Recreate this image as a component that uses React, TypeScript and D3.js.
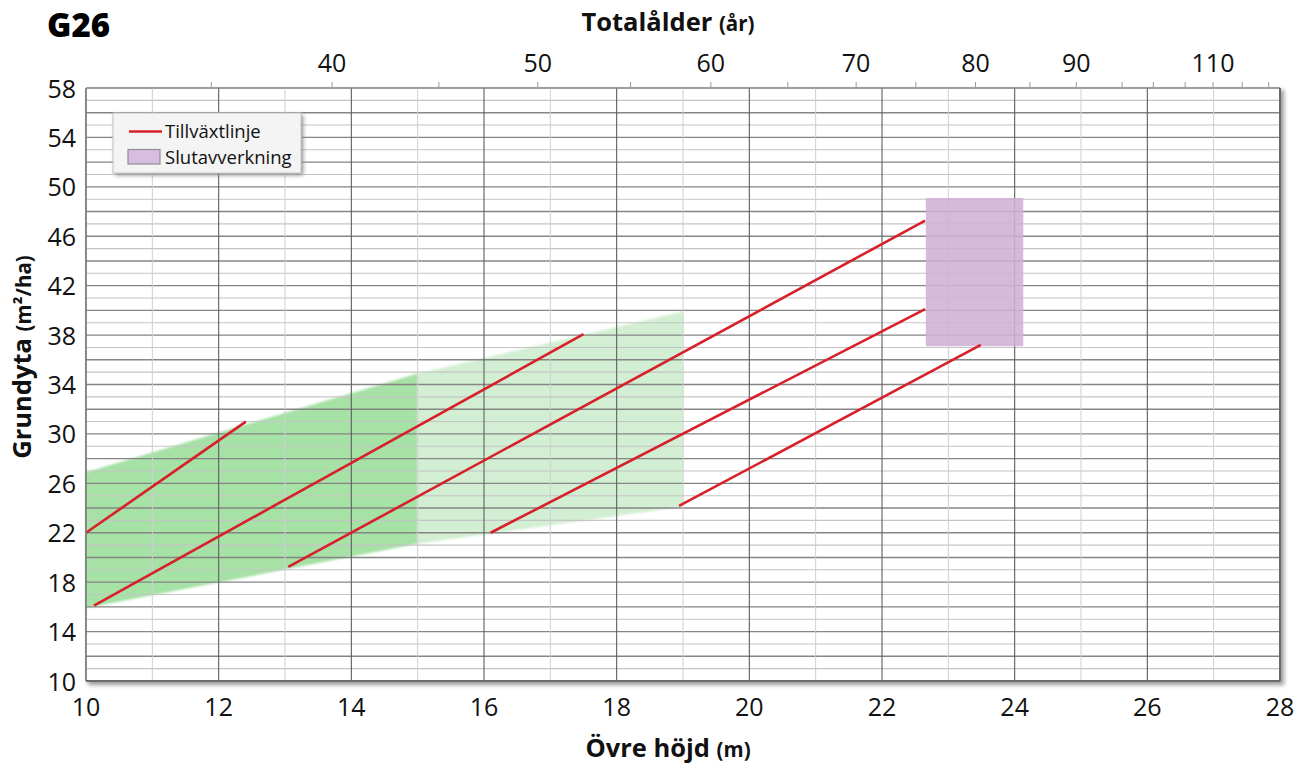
import React from "react";
import * as d3 from "d3";

// ---- data ----
const heightTicks = [10, 12, 14, 16, 18, 20, 22, 24, 26, 28];
const areaTicks = [10, 14, 18, 22, 26, 30, 34, 38, 42, 46, 50, 54, 58];
// Totalålder ticks: age value and the övre höjd (m) where it sits
const ageTickAges = [35, 40, 45, 50, 55, 60, 65, 70, 75, 80, 85, 90, 95, 100, 105, 110, 115, 120];
const ageTickHeights = [11.89, 13.71, 15.32, 16.81, 18.21, 19.42, 20.58, 21.61, 22.51, 23.41, 24.23, 24.93, 25.62, 26.09, 26.57, 26.99, 27.43, 27.83];
const ageLabels = [40, 50, 60, 70, 80, 90, 110];

// green zones: [height, grundyta] polygon points
const youngZone: [number, number][] = [[10, 26.9], [15, 34.9], [15, 21.1], [10, 15.9]];
const matureZone: [number, number][] = [[15, 34.9], [19, 39.9], [19, 24.1], [15, 21.1]];

// Tillväxtlinjer: start and end [height, grundyta]
const growthLines: [number, number][][] = [
  [[10.0, 22.0], [12.41, 31.0]],
  [[10.12, 16.1], [17.5, 38.07]],
  [[13.05, 19.23], [22.65, 47.27]],
  [[16.1, 22.0], [22.65, 40.1]],
  [[18.94, 24.17], [23.49, 37.2]],
];

// Slutavverkning zone
const fellingHeights = [22.66, 24.13];
const fellingAreas = [37.1, 49.1];

const W = 1299;
const H = 769;
const L = 86, R = 1280, T = 88, B = 681;

export default function App() {
  const x = d3.scaleLinear().domain([10, 28]).range([L, R]);
  const y = d3.scaleLinear().domain([10, 58]).range([B, T]);
  const font = "'Open Sans', 'Noto Sans', sans-serif";

  const hGrid = d3.range(10, 59, 1);
  const vGrid = d3.range(10, 29, 1);

  const poly = d3.line<[number, number]>().x((d) => x(d[0])).y((d) => y(d[1]));

  return (
    <svg width={W} height={H} style={{ position: "absolute", left: 0, top: 0, background: "#fff" }} fontFamily={font}>
      <defs>
        <filter id="blur2" x="-10%" y="-10%" width="120%" height="120%">
          <feGaussianBlur stdDeviation="2" />
        </filter>
        <filter id="soft" x="-5%" y="-5%" width="110%" height="110%">
          <feGaussianBlur stdDeviation="1.2" />
        </filter>
      </defs>

      {/* plot shadow */}
      <rect x={L + 2} y={T + 2} width={R - L + 2} height={B - T + 2} fill="#9a9a9a" filter="url(#blur2)" />
      <rect x={L} y={T} width={R - L} height={B - T} fill="#fff" />

      {/* green zones */}
      <path d={poly(matureZone) + "Z"} fill="#d3efd3" filter="url(#soft)" />
      <path d={poly(youngZone) + "Z"} fill="#a6e1a6" filter="url(#soft)" />

      {/* grid */}
      {hGrid.map((v) => (
        <line key={"h" + v} x1={L} x2={R} y1={y(v)} y2={y(v)}
          stroke={v % 2 === 0 ? "#858585" : "#c4c4c4"} strokeWidth={v % 2 === 0 ? 1.4 : 1.1} />
      ))}
      {vGrid.map((v) => (
        <line key={"v" + v} x1={x(v)} x2={x(v)} y1={T} y2={B}
          stroke={v % 2 === 0 ? "#5e5e5e" : "#cfcfcf"} strokeWidth={v % 2 === 0 ? 1.1 : 1} />
      ))}

      {/* slutavverkning */}
      <rect x={x(fellingHeights[0])} y={y(fellingAreas[1])}
        width={x(fellingHeights[1]) - x(fellingHeights[0])}
        height={y(fellingAreas[0]) - y(fellingAreas[1])}
        fill="#cfb2d4" fillOpacity={0.88} />

      {/* growth lines */}
      {growthLines.map((ln, i) => (
        <path key={"g" + i} d={poly(ln) as string} stroke="#d7202a" strokeWidth={2.6} fill="none" />
      ))}

      {/* border */}
      <line x1={L} x2={L} y1={T} y2={B} stroke="#808080" strokeWidth={1.5} />
      <line x1={L} x2={R} y1={T} y2={T} stroke="#9a9a9a" strokeWidth={1.2} />
      <line x1={R} x2={R} y1={T} y2={B} stroke="#6a6a6a" strokeWidth={2} />
      <line x1={L} x2={R} y1={B} y2={B} stroke="#6a6a6a" strokeWidth={1.8} />

      {/* top axis ticks */}
      {ageTickHeights.map((h, i) => (
        <line key={"t" + i} x1={x(h)} x2={x(h)} y1={T} y2={T - 6} stroke="#9a9a9a" strokeWidth={1} />
      ))}
      {ageLabels.map((a) => {
        const h = ageTickHeights[ageTickAges.indexOf(a)];
        return (
          <text key={"al" + a} x={x(h)} y={72} fontSize={25} textAnchor="middle" fill="#111">{a}</text>
        );
      })}

      {/* left labels */}
      {areaTicks.map((v) => (
        <text key={"yl" + v} x={L - 10} y={y(v) + 9.5} fontSize={25} textAnchor="end" fill="#111">{v}</text>
      ))}
      {/* bottom labels */}
      {heightTicks.map((v) => (
        <text key={"xl" + v} x={x(v)} y={716} fontSize={25} textAnchor="middle" fill="#111">{v}</text>
      ))}

      {/* titles */}
      <text x={47} y={37} fontSize={33} fontWeight={800} fill="#000">G26</text>
      <text x={668} y={31} textAnchor="middle" fontWeight={700} fill="#111">
        <tspan fontSize={25.5}>Totalålder </tspan>
        <tspan fontSize={20.5}>(år)</tspan>
      </text>
      <text x={668} y={757} textAnchor="middle" fontWeight={700} fill="#111">
        <tspan fontSize={25.5}>Övre höjd </tspan>
        <tspan fontSize={20.5}>(m)</tspan>
      </text>
      <text transform={`translate(31, 357) rotate(-90)`} textAnchor="middle" fontWeight={700} fill="#111">
        <tspan fontSize={25.5}>Grundyta </tspan>
        <tspan fontSize={20.5}>(m²/ha)</tspan>
      </text>

      {/* legend */}
      <rect x={115} y={115} width={188} height={60} fill="#8a8a8a" filter="url(#blur2)" />
      <rect x={113} y={113} width={188} height={60} fill="#f4f4f4" stroke="#c4c4c4" strokeWidth={1} />
      <line x1={129} x2={162} y1={131.5} y2={131.5} stroke="#d7202a" strokeWidth={2.6} />
      <rect x={128} y={149.5} width={32} height={14.5} fill="#d9bde0" stroke="#8e8e8e" strokeWidth={1.2} />
      <text x={165} y={137.5} fontSize={18.5} fill="#111">Tillväxtlinje</text>
      <text x={165} y={164} fontSize={18.5} fill="#111">Slutavverkning</text>
    </svg>
  );
}
